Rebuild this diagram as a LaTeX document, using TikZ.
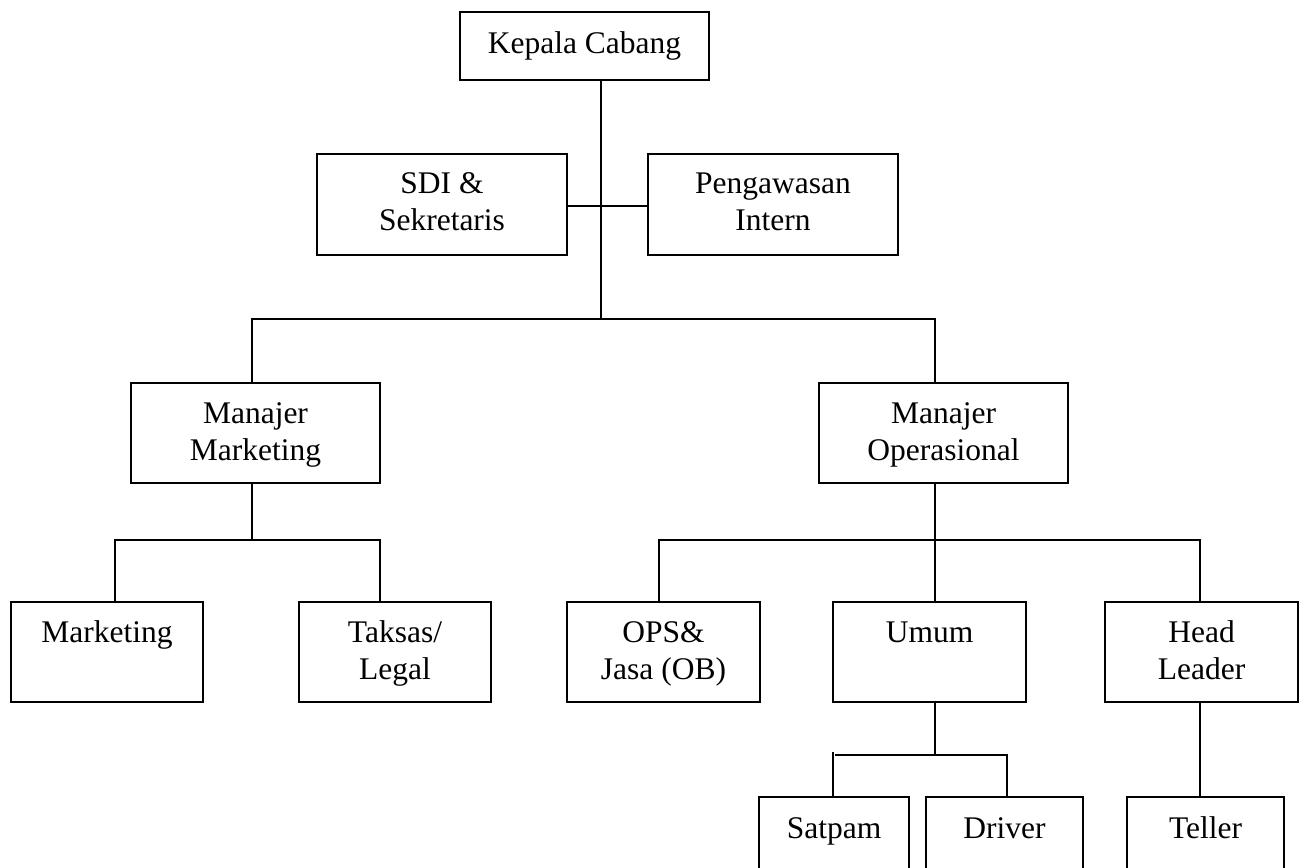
\documentclass[tikz,border=0pt]{standalone}
\usepackage{fontspec}
\setmainfont{Liberation Serif}
\begin{document}
\begin{tikzpicture}[x=1pt,y=-1pt,
  box/.style={draw, line width=1.9pt, rectangle, inner sep=0pt, outer sep=0pt},
  txt/.style={anchor=base, align=center, inner sep=0pt, font=\fontsize{31.5}{37}\selectfont},
  conn/.style={line width=1.9pt}]
\useasboundingbox (0,0) rectangle (1303,867);
\clip (0,0) rectangle (1303,867);
% boxes
\node[box, minimum width=249pt, minimum height=68pt]  (kc)  at (584.5,46) {};
\node[box, minimum width=250pt, minimum height=101pt] (sdi) at (442,204.5) {};
\node[box, minimum width=250pt, minimum height=101pt] (pi)  at (773,204.5) {};
\node[box, minimum width=249pt, minimum height=100pt] (mm)  at (255.5,433) {};
\node[box, minimum width=249pt, minimum height=100pt] (mo)  at (943.5,433) {};
\node[box, minimum width=192pt, minimum height=100pt] (mk)  at (107,652) {};
\node[box, minimum width=192pt, minimum height=100pt] (tl)  at (395,652) {};
\node[box, minimum width=193pt, minimum height=100pt] (ops) at (663.5,652) {};
\node[box, minimum width=193pt, minimum height=100pt] (um)  at (929.5,652) {};
\node[box, minimum width=193pt, minimum height=100pt] (hl)  at (1201.5,652) {};
\node[box, minimum width=150pt, minimum height=100pt] (sat) at (834,847) {};
\node[box, minimum width=157pt, minimum height=100pt] (drv) at (1004.5,847) {};
\node[box, minimum width=157pt, minimum height=100pt] (tel) at (1205.5,847) {};
% texts (base = baseline of last line)
\node[txt] (kct)  at ([yshift=-41pt]kc.north)  {Kepala Cabang};
\node[txt] (sdit) at ([yshift=-76pt]sdi.north) {SDI \&\\Sekretaris};
\node[txt] (pit)  at ([yshift=-76pt]pi.north)  {Pengawasan\\Intern};
\node[txt] (mmt)  at ([yshift=-77pt]mm.north)  {Manajer\\Marketing};
\node[txt] (mot)  at ([yshift=-77pt]mo.north)  {Manajer\\Operasional};
\node[txt] (mkt)  at ([yshift=-40pt]mk.north)  {Marketing};
\node[txt] (tlt)  at ([yshift=-77pt]tl.north)  {Taksas/\\Legal};
\node[txt] (opst) at ([yshift=-77pt]ops.north) {OPS\&\\Jasa (OB)};
\node[txt] (umt)  at ([yshift=-40pt]um.north)  {Umum};
\node[txt] (hlt)  at ([yshift=-77pt]hl.north)  {Head\\Leader};
\node[txt] (satt) at ([yshift=-41pt]sat.north) {Satpam};
\node[txt] (drvt) at ([yshift=-41pt]drv.north) {Driver};
\node[txt] (telt) at ([yshift=-41pt]tel.north) {Teller};
% junctions
\coordinate (j0)  at (601,206);
\coordinate (j1)  at (601,319);
\coordinate (j1l) at (252,319);
\coordinate (j1r) at (935,319);
\coordinate (j2)  at (252,540);
\coordinate (j2l) at (115,540);
\coordinate (j2r) at (380,540);
\coordinate (j3)  at (935,540);
\coordinate (j3l) at (659,540);
\coordinate (j3r) at (1200,540);
\coordinate (j4)  at (935,755);
\coordinate (j4l) at (835,755);
\coordinate (j4s) at (833,752);
\coordinate (j4r) at (1007,755);
% connectors
\draw[conn] (kc.south -| j1) -- (j1);
\draw[conn] (sdi.east |- j0) -- (pi.west |- j0);
\draw[conn] (j1l |- mm.north) -- (j1l) -- (j1r) -- (j1r |- mo.north);
\draw[conn] (j2 |- mm.south) -- (j2);
\draw[conn] (j2l |- mk.north) -- (j2l) -- (j2r) -- (j2r |- tl.north);
\draw[conn] (j3 |- mo.south) -- (j3);
\draw[conn] (j3l |- ops.north) -- (j3l) -- (j3r) -- (j3r |- hl.north);
\draw[conn] (j3) -- (j3 |- um.north);
\draw[conn] (j4 |- um.south) -- (j4);
\draw[conn] (j4s |- sat.north) -- (j4s);
\draw[conn] (j4l) -- (j4r) -- (j4r |- drv.north);
\draw[conn] (j3r |- hl.south) -- (j3r |- tel.north);
\end{tikzpicture}
\end{document}
